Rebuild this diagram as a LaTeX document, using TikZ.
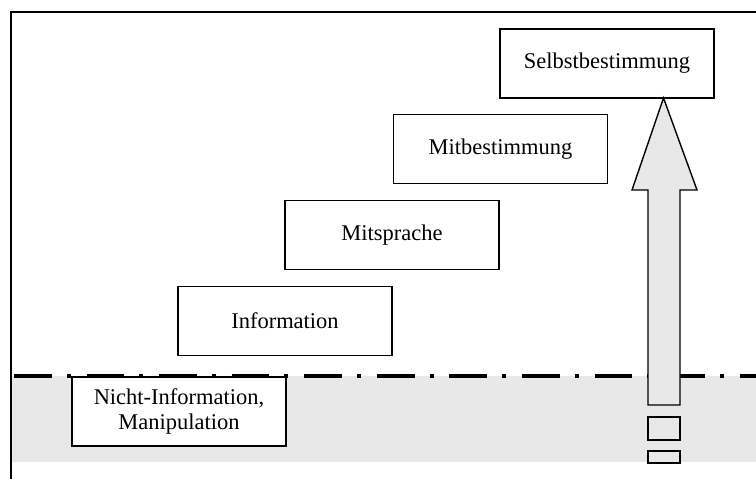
\documentclass[tikz,border=0pt]{standalone}
\usepackage{fontspec}
\setmainfont{Liberation Serif}
\usetikzlibrary{positioning}

\tikzset{
    stufe/.style={draw, line width=0.8pt, fill=white, minimum width=4.28cm, minimum height=1.38cm,
        align=center, font=\fontsize{12.8}{14.5}\selectfont},
    grenze/.style={line width=2pt, dash pattern=on 21.5pt off 8.5pt on 2.3pt off 9pt}
}

\begin{document}
\begin{tikzpicture}[x=0.02cm, y=-0.02cm]
    \useasboundingbox (0,0) rectangle (756,479);
    % grauer Bereich unter der Linie
    \fill[gray!18] (12,376) rectangle (756,462);
    \draw[line width=1pt] (11,479) -- (11,12) -- (756,12);

    % Stufen
    \node[stufe] (nicht) at (179,411.5) {Nicht-Information,\\Manipulation};
    \node[stufe] (info) at (285,321) {Information};
    \node[stufe] (mitsprache) at (392,235) {Mitsprache};
    \node[stufe] (mitbest) at (500.5,149) {Mitbestimmung};
    \node[stufe] (selbst) at (607,63.5) {Selbstbestimmung};

    \draw[grenze] (14,376) -- (756,376);

    % Pfeil
    \draw[line width=0.8pt, fill=gray!18] (648,405) -- (648,190) -- (632,190) -- (663.5,98)
        -- (697,190) -- (680,190) -- (680,405) -- cycle;
    \draw[line width=0.8pt, fill=gray!18] (648,417) rectangle (680,440);
    \draw[line width=0.8pt, fill=gray!18] (648,451) rectangle (680,463);
\end{tikzpicture}
\end{document}
